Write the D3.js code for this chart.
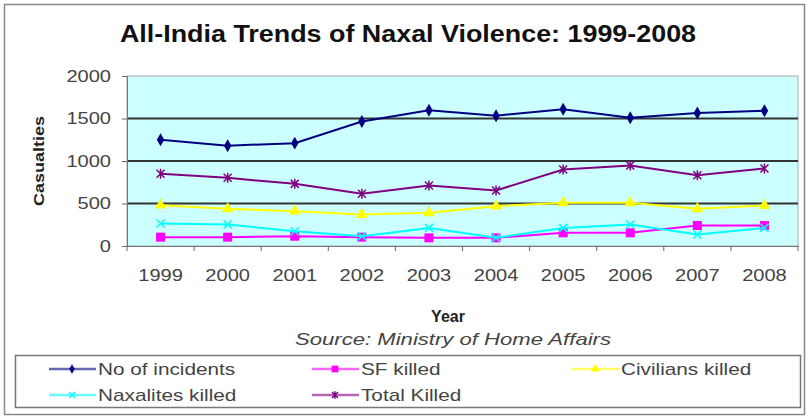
<!DOCTYPE html>
<html><head><meta charset="utf-8">
<script src="https://cdn.jsdelivr.net/npm/d3@7"></script>
<style>body{margin:0;background:#fff;}svg{display:block;font-family:"Liberation Sans",Arial,sans-serif;}</style>
</head><body>
<svg id="c" width="806" height="418"></svg>
<script>
const years = ["1999","2000","2001","2002","2003","2004","2005","2006","2007","2008"];
const incidents = [1250,1180,1210,1465,1597,1533,1608,1509,1565,1591];
const sfKilled = [104,104,115,104,96,96,155,155,241,241];
const civiliansKilled = [480,437,410,370,390,468,508,508,437,476];
const naxalitesKilled = [265,253,174,115,213,96,213,253,135,213];
const totalKilled = [849,802,731,614,712,653,900,947,833,912];
const yTicks = [0,500,1000,1500,2000];

const series = [
  {name:"No of incidents", values:incidents, color:"#000080", marker:"diamond"},
  {name:"SF killed", values:sfKilled, color:"#ff00ff", marker:"square"},
  {name:"Civilians killed", values:civiliansKilled, color:"#ffff00", marker:"triangle"},
  {name:"Naxalites killed", values:naxalitesKilled, color:"#00ffff", marker:"x"},
  {name:"Total Killed", values:totalKilled, color:"#800080", marker:"star"}
];

function stretch(sel, f){
  sel.each(function(){
    const w = this.getComputedTextLength();
    d3.select(this).attr("textLength", w*f).attr("lengthAdjust","spacingAndGlyphs");
  });
}

const svg = d3.select("#c");
svg.append("rect").attr("x",4.5).attr("y",4.5).attr("width",800).attr("height",410)
  .attr("fill","#fff").attr("stroke","#888").attr("stroke-width",1.5);

const L=127, R=798, T=76, B=246;
const x = d3.scaleBand().domain(years).range([L,R]);
const y = d3.scaleLinear().domain([0,2000]).range([B,T]);

svg.append("rect").attr("x",L).attr("y",T).attr("width",R-L).attr("height",B-T)
  .attr("fill","#ccffff").attr("stroke","#aaa").attr("stroke-width",1);

svg.append("g").selectAll("line").data(yTicks.filter(d=>d>0&&d<2000)).join("line")
  .attr("x1",L).attr("x2",R).attr("y1",d=>y(d)).attr("y2",d=>y(d))
  .attr("stroke","#333").attr("stroke-width",1.8);

const yAxis = d3.axisLeft(y).tickValues(yTicks).tickSize(5).tickPadding(11).tickFormat(d3.format("d"));
const gy = svg.append("g").attr("transform",`translate(${L},0)`).call(yAxis);
gy.select(".domain").attr("stroke","#777");
gy.selectAll(".tick line").attr("stroke","#666");
gy.selectAll("text").attr("font-size",17).attr("fill","#444").attr("font-family","Liberation Sans, Arial, sans-serif");
stretch(gy.selectAll("text"),1.18);

const xAxis = d3.axisBottom(x).tickSize(0).tickPadding(23);
const gx = svg.append("g").attr("transform",`translate(0,${B})`).call(xAxis);
gx.select(".domain").attr("stroke","#777");
gx.selectAll("text").attr("font-size",17).attr("fill","#444").attr("font-family","Liberation Sans, Arial, sans-serif");
stretch(gx.selectAll("text"),1.18);
svg.append("g").selectAll("line").data(years.concat(["end"])).join("line")
  .attr("x1",(d,i)=> i<years.length ? x(d) : R).attr("x2",(d,i)=> i<years.length ? x(d) : R)
  .attr("y1",B).attr("y2",B+5).attr("stroke","#666");

const line = d3.line().x((d,i)=>x(years[i])+x.bandwidth()/2).y(d=>y(d));
function marker(g, type, color, k){
  k = k||1;
  if(type==="diamond") g.append("path").attr("d",d3.symbol(d3.symbolDiamond,48*k*k)()).attr("fill",color);
  else if(type==="square") g.append("rect").attr("x",-4.5*k).attr("y",-4.5*k).attr("width",9*k).attr("height",9*k).attr("fill",color);
  else if(type==="triangle") g.append("path").attr("d",d3.symbol(d3.symbolTriangle,60*k*k)()).attr("fill",color);
  else if(type==="x") g.append("path").attr("d",`M${-4*k},${-4*k}L${4*k},${4*k}M${-4*k},${4*k}L${4*k},${-4*k}`).attr("stroke",color).attr("stroke-width",1.5).attr("fill","none");
  else if(type==="star") g.append("path").attr("d",`M${-4*k},${-4*k}L${4*k},${4*k}M${-4*k},${4*k}L${4*k},${-4*k}M0,${-5*k}L0,${5*k}`).attr("stroke",color).attr("stroke-width",1.5).attr("fill","none");
}
series.forEach(s=>{
  svg.append("path").datum(s.values).attr("d",line).attr("fill","none")
    .attr("stroke",s.color).attr("stroke-width",2);
  s.values.forEach((v,i)=>{
    const g = svg.append("g").attr("transform",`translate(${x(years[i])+x.bandwidth()/2},${y(v)})`);
    marker(g,s.marker,s.color);
  });
});

const title = svg.append("text").attr("x",408).attr("y",42).attr("text-anchor","middle")
  .attr("font-size",24).attr("font-weight","bold").attr("fill","#111")
  .text("All-India Trends of Naxal Violence: 1999-2008");
stretch(title,1.12);
const yt = svg.append("text").attr("transform","translate(44,161) rotate(-90)").attr("text-anchor","middle")
  .attr("font-size",15).attr("font-weight","bold").attr("fill","#222").text("Casualties");
stretch(yt,1.2);
svg.append("text").attr("x",448).attr("y",322).attr("text-anchor","middle")
  .attr("font-size",16).attr("font-weight","bold").attr("fill","#222").text("Year");
const src = svg.append("text").attr("x",453).attr("y",345).attr("text-anchor","middle")
  .attr("font-size",17).attr("font-style","italic").attr("fill","#444").text("Source: Ministry of Home Affairs");
stretch(src,1.3);

svg.append("rect").attr("x",15.5).attr("y",355.5).attr("width",785).attr("height",52)
  .attr("fill","none").attr("stroke","#777").attr("stroke-width",1.5);
const legPos = [[49,369],[312,369],[572,369],[49,395],[312,395]];
series.forEach((s,i)=>{
  const [lx,ly] = legPos[i];
  const g = svg.append("g");
  g.append("line").attr("x1",lx).attr("x2",lx+47).attr("y1",ly).attr("y2",ly).attr("stroke",s.color).attr("stroke-width",2.5).attr("stroke-opacity",0.6);
  const m = g.append("g").attr("transform",`translate(${lx+23},${ly})`);
  marker(m,s.marker,s.color,0.75);
  const t = g.append("text").attr("x",lx+49).attr("y",ly+6).attr("font-size",17).attr("fill","#444").text(s.name);
  stretch(t,1.22);
});
</script>
</body></html>
